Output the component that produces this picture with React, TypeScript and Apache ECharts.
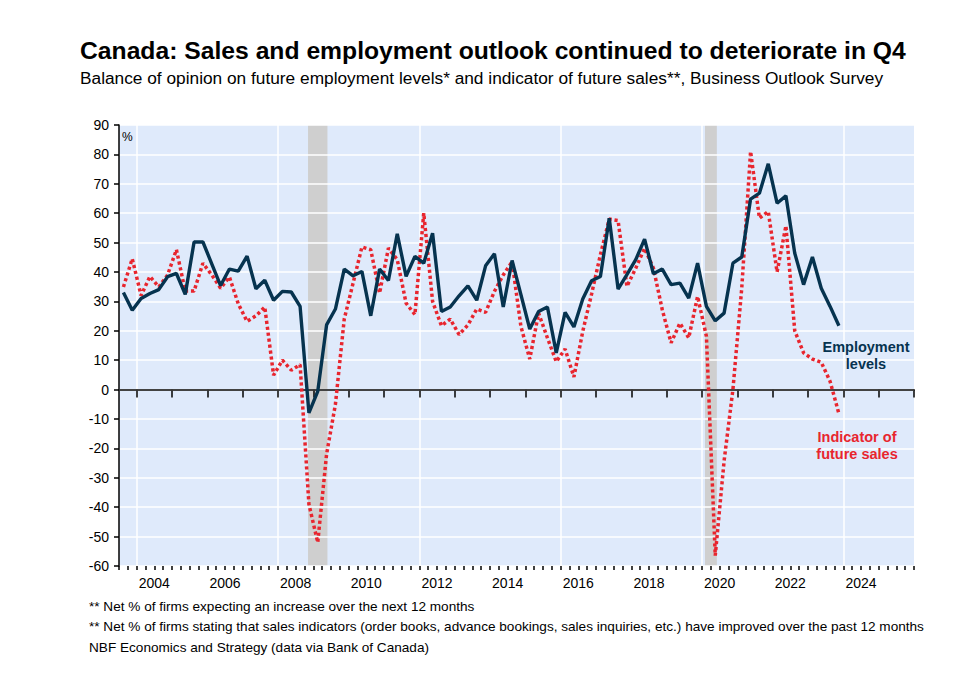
import React, { useEffect, useRef } from "react";
import * as echarts from "echarts";

// Quarterly data, 2003Q3 .. 2023Q4
const START_YEAR = 2003;
const START_QUARTER = 3;

const employment = [
  33, 27, 31, 32.7, 34, 38.4, 39.5, 32.4, 50.2, 50.2,
  42.8, 35.4, 41, 40.3, 45.4, 34.3, 37.2, 30.4, 33.4, 33.2,
  28.3, -7.9, -0.6, 22, 27.4, 41, 38.7, 40.2, 25.1, 41,
  37.1, 53, 38.5, 45.3, 43, 53.2, 26.6, 28.1, 31.9, 35.3,
  30.4, 42.1, 46.2, 28.1, 43.9, 32.3, 20.6, 26.6, 28.1, 12.5,
  26.3, 21.3, 30.8, 37, 38.5, 58.3, 34.2, 39.1, 44.2, 51.2,
  39.4, 41, 35.7, 36.2, 31.1, 43, 28.3, 23.4, 26, 43,
  45.1, 64.8, 66.8, 76.8, 63.4, 65.9, 46.4, 35.7, 45.1, 34.5,
  28.3, 21.7,
];

const futureSales = [
  34.9, 44.5, 32, 38.5, 34.9, 39, 47.6, 33.5, 33.5, 43,
  39, 34.5, 38.3, 29.2, 23.2, 25.1, 28.1, 4.9, 10, 6.6,
  8.5, -39, -52, -22, -5, 24, 36.2, 48.5, 47.6, 32.8,
  48.1, 44.2, 29.4, 25.5, 60, 30, 21.7, 24, 18.7, 22,
  27.4, 26.3, 33.4, 39, 43.5, 21.5, 10.4, 26, 17.6, 9.5,
  13.8, 4.3, 19.8, 32.5, 45.9, 58, 57.5, 35.1, 41.3, 48.1,
  41.3, 27.2, 15.9, 22.6, 17.6, 31.7, 18.1, -56.5, -24.3, 0,
  34.5, 81, 58.3, 60.6, 40, 55.7, 20, 12.5, 10.4, 9.3,
  2.8, -8.2,
];

const quarterLabels = employment.map((_, i) => {
  const q = START_QUARTER - 1 + i;
  return `${START_YEAR + Math.floor(q / 4)}Q${(q % 4) + 1}`;
});
// mid-quarter position on a continuous year axis
const quarterTime = (label: string) => {
  const [y, q] = label.split("Q").map(Number);
  return y + (q - 0.5) / 4;
};

const X_MIN = 2003.5;
const X_MAX = 2026;
const Y_MIN = -60;
const Y_MAX = 90;
const Y_STEP = 10;

const yearTicks = [
  2004, 2005, 2006, 2007, 2008, 2009, 2010, 2011, 2012, 2013, 2014,
  2015, 2016, 2017, 2018, 2019, 2020, 2021, 2022, 2023, 2024, 2025, 2026,
];
const yearLabels = [2004, 2006, 2008, 2010, 2012, 2014, 2016, 2018, 2020, 2022, 2024];
const gridYears = [2004, 2008, 2012, 2016, 2020, 2024];
const recessions = [
  [2008.85, 2009.4],
  [2020.085, 2020.42],
];

const TITLE = "Canada: Sales and employment outlook continued to deteriorate in Q4";
const SUBTITLE =
  "Balance of opinion on future employment levels* and indicator of future sales**, Business Outlook Survey";
const FOOTNOTES = [
  "** Net % of firms expecting an increase over the next 12 months",
  "** Net % of firms stating that sales indicators (order books, advance bookings, sales inquiries, etc.) have improved over the past 12 months",
  "NBF Economics and Strategy (data via Bank of Canada)",
];

const NAVY = "#06334f";
const RED = "#e8252e";
const FONT = "'Liberation Sans', Arial, sans-serif";

export default function App() {
  const ref = useRef<HTMLDivElement>(null);
  useEffect(() => {
    if (!ref.current) return;
    const chart = echarts.init(ref.current, undefined, { renderer: "svg" });
    const empData = employment.map((v, i) => [quarterTime(quarterLabels[i]), v]);
    const salesData = futureSales.map((v, i) => [quarterTime(quarterLabels[i]), v]);

    const baseX = {
      type: "value" as const,
      min: X_MIN,
      max: X_MAX,
      position: "bottom" as const,
      gridIndex: 0,
    };

    chart.setOption({
      animation: false,
      backgroundColor: "#ffffff",
      textStyle: { fontFamily: FONT },
      grid: {
        left: 119,
        right: 54,
        top: 125,
        bottom: 107,
        show: true,
        backgroundColor: "#dfeafb",
        borderWidth: 0,
      },
      xAxis: [
        {
          ...baseX,
          z: 1.5,
          axisLine: { show: true, lineStyle: { color: "#000", width: 1.5 } },
          axisTick: {
            show: true,
            length: 8,
            customValues: yearTicks,
            lineStyle: { color: "#000", width: 1.5 },
          },
          axisLabel: {
            show: true,
            customValues: yearLabels.map((y) => y + 0.5),
            formatter: (v: number) => String(Math.floor(v)),
            color: "#000",
            fontSize: 14,
            margin: 10,
            fontFamily: FONT,
          },
          splitLine: { show: false },
        },
        {
          ...baseX,
          z: 1.5,
          interval: 0.25,
          axisLine: { show: false },
          axisTick: { show: true, length: 4, lineStyle: { color: "#000", width: 1.5 } },
          axisLabel: { show: false },
          splitLine: { show: false },
        },
        {
          ...baseX,
          z: 1.5,
          axisLine: { show: false },
          axisTick: { show: false, customValues: gridYears },
          axisLabel: { show: false },
          splitLine: { show: true, lineStyle: { color: "#ffffff", width: 1.5 } },
        },
      ],
      yAxis: {
        type: "value",
        min: Y_MIN,
        max: Y_MAX,
        interval: Y_STEP,
        z: 1.5,
        axisLine: { show: true, lineStyle: { color: "#000", width: 1.5 } },
        axisTick: { show: true, length: 5, lineStyle: { color: "#000", width: 1.5 } },
        axisLabel: { color: "#000", fontSize: 14, margin: 10, fontFamily: FONT },
        splitLine: { show: true, lineStyle: { color: "#ffffff", width: 1.5 } },
      },
      series: [
        {
          type: "line",
          data: [],
          silent: true,
          markArea: {
            silent: true,
            z: 1,
            itemStyle: { color: "#cfcfcf" },
            data: recessions.map(([a, b]) => [{ xAxis: a }, { xAxis: b }]),
          },
          markLine: {
            silent: true,
            z: 1.8,
            symbol: ["none", "none"],
            label: { show: false },
            lineStyle: { color: "#444", width: 1.5, type: "solid" },
            data: [{ yAxis: 0 }],
          },
        },
        {
          name: "Indicator of future sales",
          type: "line",
          z: 3,
          data: salesData,
          showSymbol: false,
          symbol: "none",
          lineStyle: { color: RED, width: 3.5, type: [3.2, 2.8] },
        },
        {
          name: "Employment levels",
          type: "line",
          z: 4,
          data: empData,
          showSymbol: false,
          symbol: "none",
          lineStyle: { color: NAVY, width: 3.4 },
        },
      ],
      graphic: [
        {
          type: "text",
          left: 80,
          top: 38,
          z: 10,
          style: { text: TITLE, font: `bold 24.7px ${FONT}`, fill: "#000" },
        },
        {
          type: "text",
          left: 80,
          top: 69,
          z: 10,
          style: { text: SUBTITLE, font: `17.3px ${FONT}`, fill: "#000" },
        },
        {
          type: "text",
          left: 122,
          top: 131,
          z: 10,
          style: { text: "%", font: `12px ${FONT}`, fill: "#000" },
        },
        {
          type: "text",
          x: 866,
          y: 338,
          z: 10,
          style: {
            text: "Employment\nlevels",
            font: `bold 14.5px ${FONT}`,
            fill: NAVY,
            align: "center",
            lineHeight: 17,
          },
        },
        {
          type: "text",
          x: 857,
          y: 428,
          z: 10,
          style: {
            text: "Indicator of\nfuture sales",
            font: `bold 14.5px ${FONT}`,
            fill: RED,
            align: "center",
            lineHeight: 17,
          },
        },
        ...FOOTNOTES.map((t, i) => ({
          type: "text",
          left: 89,
          top: 599 + i * 20.5,
          z: 10,
          style: { text: t, font: `13.6px ${FONT}`, fill: "#000" },
        })),
      ],
    });
    return () => chart.dispose();
  }, []);
  return (
    <div
      ref={ref}
      style={{ position: "fixed", left: 0, top: 0, width: 968, height: 673, background: "#fff" }}
    />
  );
}
